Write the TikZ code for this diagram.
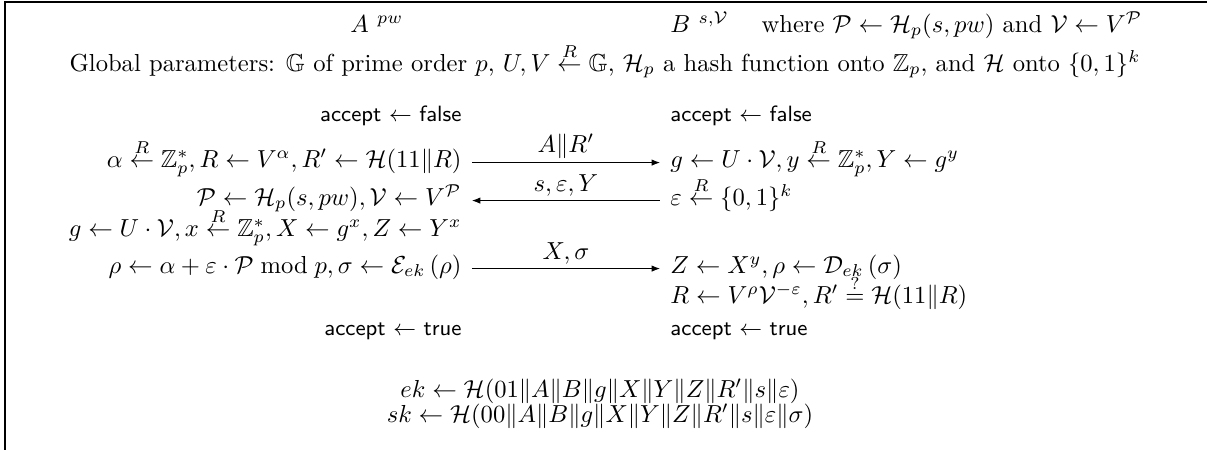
\documentclass[tikz,border=0pt]{standalone}
\usepackage{amsmath}
\usepackage{amssymb}
\usepackage{xcolor}
\usetikzlibrary{arrows.meta, positioning}

\newcommand{\rnd}{\stackrel{R}{\leftarrow}}
\newcommand{\acc}[1]{{\small\textsf{accept} $\leftarrow$ \textsf{#1}}}

\begin{document}
\begin{tikzpicture}[x=0.4065pt, y=-0.4065pt, >={Latex[length=3.5pt]},
  lrow/.style={anchor=base east, inner sep=0pt},
  rrow/.style={anchor=base west, inner sep=0pt},
  msg/.style={above, inner sep=1.5pt}]
  \useasboundingbox (0,0) rectangle (1207,450);
  \draw[line width=0.8pt] (5,450) -- (5,2) -- (1207,2);
  % header
  \node[rrow] (hdra) at (350,32) {$A$ $^{pw}$};
  \node[rrow] (hdrb) at (670,32) {$B$ $^{s,\mathcal{V}}$ \quad where $\mathcal{P} \leftarrow \mathcal{H}_p(s,pw)$ and $\mathcal{V} \leftarrow V^{\mathcal{P}}$};
  \node[anchor=base, inner sep=0pt] (glob) at (605,71) {Global parameters: $\mathbb{G}$ of prime order $p$, $U,V \rnd \mathbb{G}$, $\mathcal{H}_p$ a hash function onto $\mathbb{Z}_p$, and $\mathcal{H}$ onto $\{0,1\}^k$};
  % initiator
  \node[lrow] (afalse) at (462,121) {\acc{false}};
  \node[lrow] (a1) at (462,167) {$\alpha \rnd \mathbb{Z}_p^*, R \leftarrow V^\alpha, R' \leftarrow \mathcal{H}(11\|R)$};
  \node[lrow] (a2) at (462,205) {$\mathcal{P} \leftarrow \mathcal{H}_p(s,pw), \mathcal{V} \leftarrow V^{\mathcal{P}}$};
  \node[lrow] (a3) at (462,236) {$g \leftarrow U\cdot\mathcal{V}, x \rnd \mathbb{Z}_p^*, X \leftarrow g^x, Z \leftarrow Y^x$};
  \node[lrow] (a4) at (462,273) {$\rho \leftarrow \alpha + \varepsilon\cdot\mathcal{P} \bmod p, \sigma \leftarrow \mathcal{E}_{ek}\left(\rho\right)$};
  \node[lrow] (atrue) at (462,335) {\acc{true}};
  % responder
  \node[rrow] (bfalse) at (670,121) {\acc{false}};
  \node[rrow] (b1) at (670,167) {$g \leftarrow U\cdot\mathcal{V}, y \rnd \mathbb{Z}_p^*, Y \leftarrow g^y$};
  \node[rrow] (b2) at (670,205) {$\varepsilon \rnd \{0,1\}^k$};
  \node[rrow] (b4) at (670,273) {$Z \leftarrow X^y, \rho \leftarrow \mathcal{D}_{ek}\left(\sigma\right)$};
  \node[rrow] (b5) at (670,303) {$R \leftarrow V^\rho\mathcal{V}^{-\varepsilon}, R' \stackrel{?}{=} \mathcal{H}(11\|R)$};
  \node[rrow] (btrue) at (670,335) {\acc{true}};
  % messages
  \draw[->] ([xshift=4pt,yshift=1.8pt]a1.base east) -- node[msg]{$A\|R'$} ([xshift=-4pt,yshift=1.8pt]b1.base west);
  \draw[<-] ([xshift=4pt,yshift=1.8pt]a2.base east) -- node[msg]{$s,\varepsilon,Y$} ([xshift=-4pt,yshift=1.8pt]b2.base west);
  \draw[->] ([xshift=4pt,yshift=1.8pt]a4.base east) -- node[msg]{$X,\sigma$} ([xshift=-4pt,yshift=1.8pt]b4.base west);
  % session keys
  \node[anchor=base, inner sep=0pt] (ek) at (600,397) {$ek \leftarrow \mathcal{H}(01\|A\|B\|g\|X\|Y\|Z\|R'\|s\|\varepsilon)$};
  \node[anchor=base, inner sep=0pt] (sk) at (600,422) {$sk \leftarrow \mathcal{H}(00\|A\|B\|g\|X\|Y\|Z\|R'\|s\|\varepsilon\|\sigma)$};
\end{tikzpicture}
\end{document}
